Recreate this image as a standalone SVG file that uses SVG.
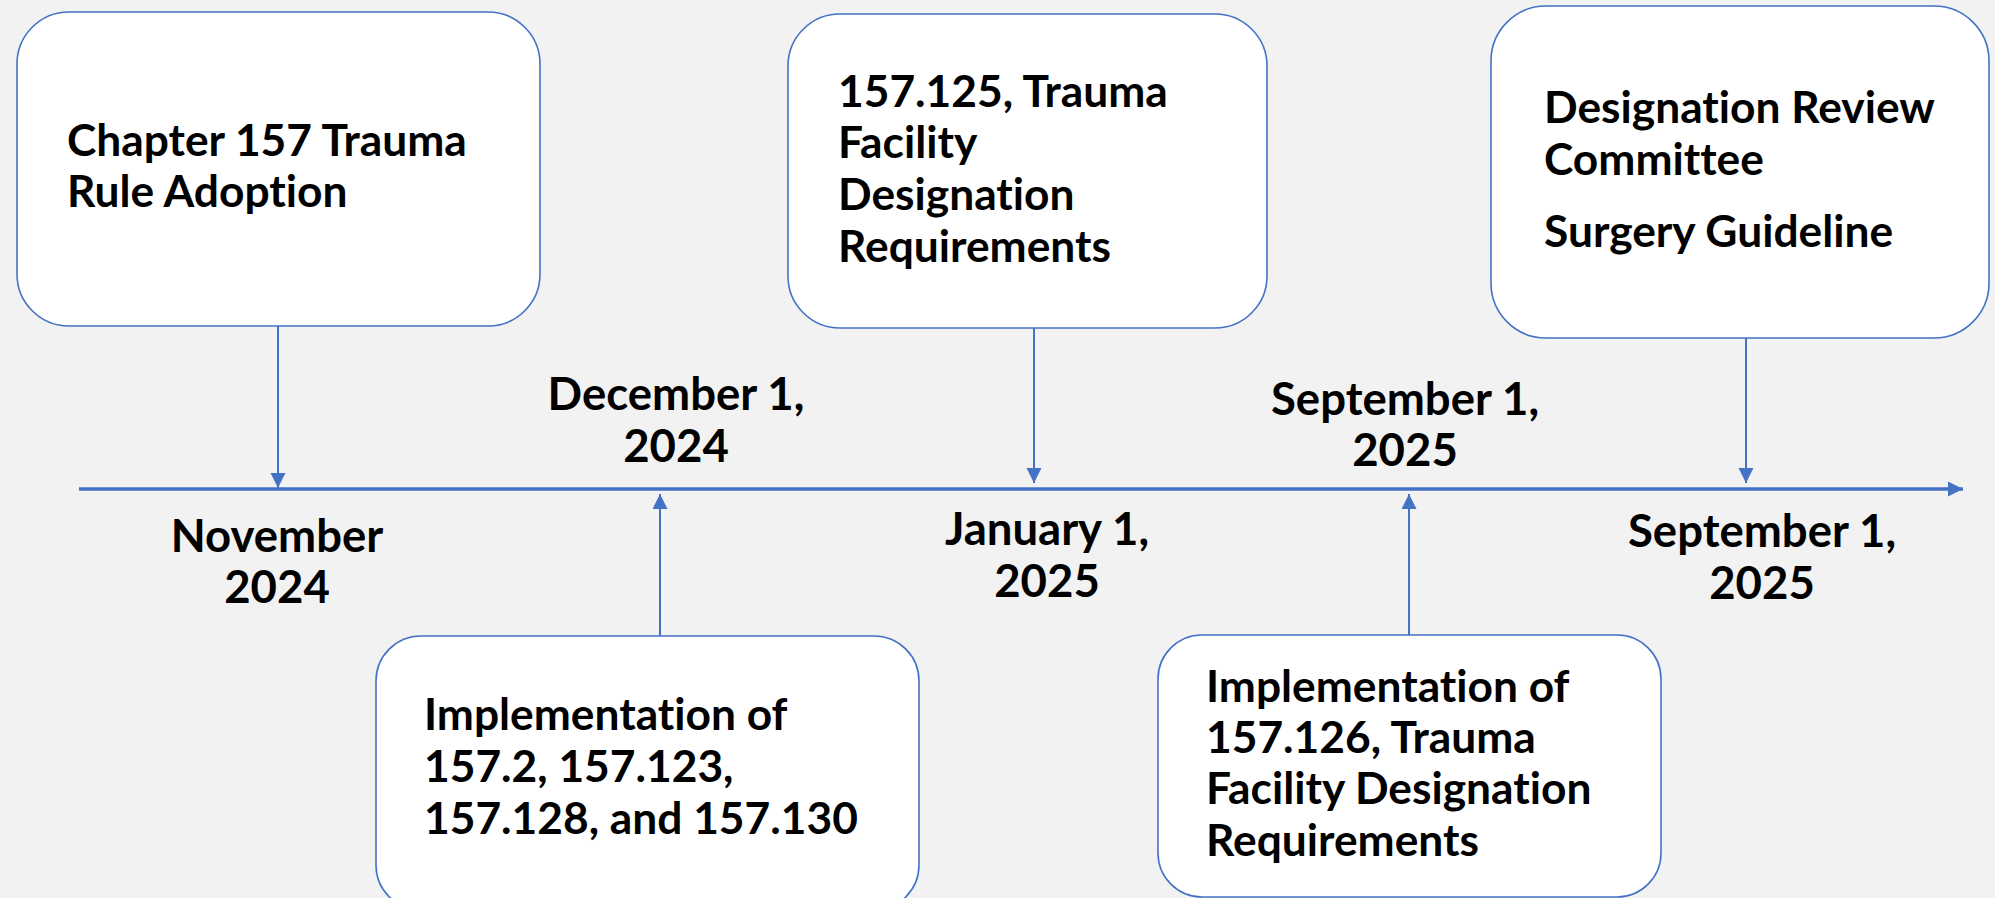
<svg xmlns="http://www.w3.org/2000/svg" width="1995" height="898" viewBox="0 0 1995 898">
  <style>
    .box { fill: #FFFFFF; stroke: #4472C4; stroke-width: 1.6; }
    .t { font-family: Lato, "Liberation Sans", sans-serif; font-weight: bold; font-size: 44.3px; fill: #000000; font-variant-ligatures: none; font-feature-settings: "liga" 0, "clig" 0, "dlig" 0; }
    .d { font-family: Lato, "Liberation Sans", sans-serif; font-weight: bold; font-size: 45.5px; fill: #000000; text-anchor: middle; font-variant-ligatures: none; font-feature-settings: "liga" 0, "clig" 0, "dlig" 0; }
    .conn { stroke: #4472C4; stroke-width: 2; fill: none; }
    .axis { stroke: #4472C4; stroke-width: 3.5; fill: none; }
  </style>
  <defs>
    <marker id="ah" markerUnits="userSpaceOnUse" markerWidth="16" markerHeight="16" refX="15" refY="7.5" orient="auto">
      <path d="M0,0 L15,7.5 L0,15 Z" fill="#4472C4"/>
    </marker>
  </defs>
  <rect width="1995" height="898" fill="#F2F2F2"/>

  <g id="connectors">
    <line class="axis" x1="79" y1="489" x2="1963" y2="489" marker-end="url(#ah)"/>
    <line class="conn" x1="278" y1="326" x2="278" y2="488" marker-end="url(#ah)"/>
    <line class="conn" x1="1034" y1="328" x2="1034" y2="483" marker-end="url(#ah)"/>
    <line class="conn" x1="1746" y1="338" x2="1746" y2="483" marker-end="url(#ah)"/>
    <line class="conn" x1="660" y1="636" x2="660" y2="494" marker-end="url(#ah)"/>
    <line class="conn" x1="1409" y1="635" x2="1409" y2="494" marker-end="url(#ah)"/>
  </g>

  <g id="node-chapter157">
    <rect class="box" x="17" y="12" width="523" height="314" rx="52" ry="52"/>
    <text class="t" x="67" y="156">Chapter 157 Trauma</text>
    <text class="t" x="67" y="207">Rule Adoption</text>
  </g>

  <g id="node-157-125">
    <rect class="box" x="788" y="14" width="479" height="314" rx="52" ry="52"/>
    <text class="t" x="838" y="107">157.125, Trauma</text>
    <text class="t" x="838" y="158">Facility</text>
    <text class="t" x="838" y="210">Designation</text>
    <text class="t" x="838" y="262">Requirements</text>
  </g>

  <g id="node-review">
    <rect class="box" x="1491" y="6" width="498" height="332" rx="55" ry="55"/>
    <text class="t" x="1544" y="123">Designation Review</text>
    <text class="t" x="1544" y="175">Committee</text>
    <text class="t" x="1544" y="247">Surgery Guideline</text>
  </g>

  <g id="node-impl-1">
    <rect class="box" x="376" y="636" width="543" height="274" rx="45" ry="45"/>
    <text class="t" x="424" y="730">Implementation of</text>
    <text class="t" x="424" y="782">157.2, 157.123,</text>
    <text class="t" x="424" y="834">157.128, and 157.130</text>
  </g>

  <g id="node-impl-2">
    <rect class="box" x="1158" y="635" width="503" height="262" rx="44" ry="44"/>
    <text class="t" x="1206" y="702">Implementation of</text>
    <text class="t" x="1206" y="753">157.126, Trauma</text>
    <text class="t" x="1206" y="804">Facility Designation</text>
    <text class="t" x="1206" y="856">Requirements</text>
  </g>

  <g id="date-nov-2024">
    <text class="d" x="277" y="552">November</text>
    <text class="d" x="277" y="603">2024</text>
  </g>
  <g id="date-dec-2024">
    <text class="d" x="676" y="410">December 1,</text>
    <text class="d" x="676" y="462">2024</text>
  </g>
  <g id="date-jan-2025">
    <text class="d" x="1047" y="545">January 1,</text>
    <text class="d" x="1047" y="597">2025</text>
  </g>
  <g id="date-sep-2025-a">
    <text class="d" x="1405" y="415">September 1,</text>
    <text class="d" x="1405" y="466">2025</text>
  </g>
  <g id="date-sep-2025-b">
    <text class="d" x="1762" y="547">September 1,</text>
    <text class="d" x="1762" y="599">2025</text>
  </g>
</svg>
